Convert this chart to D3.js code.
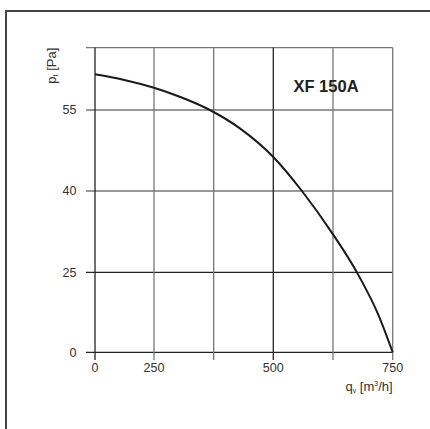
<!DOCTYPE html>
<html>
<head>
  <meta charset="utf-8">
  <script src="https://cdn.jsdelivr.net/npm/d3@7/dist/d3.min.js"></script>
  <style>
    body { margin: 0; background: #fff; }
    text { font-family: "Liberation Sans", Arial, sans-serif; fill: #333; }
  </style>
</head>
<body>
  <svg id="chart" width="430" height="429"></svg>
  <script>
    // fan curve XF 150A
    var flow = [0, 120, 250, 308, 367, 430, 500, 560, 625, 675, 720, 750];
    var pressure = [61.6, 60.6, 59.1, 57.3, 55, 51.6, 46.3, 40, 32.0, 25, 11.7, 0];

    var xTicks = [0, 250, 500, 750];
    var xGrid = [0, 250, 375, 500, 625, 750];
    var yTicks = [0, 25, 40, 55];
    var yGrid = [0, 25, 40, 55, 66.5];
    var darkX = [0, 500];
    var darkY = [0, 25];

    var svg = d3.select('#chart');

    // the original chart's axes are not evenly spaced, so piecewise scales
    var x = d3.scaleLinear()
      .domain([0, 250, 500, 750])
      .range([95, 154, 273.3, 392.7]);
    var y = d3.scaleLinear()
      .domain([0, 25, 40, 55, 66.5])
      .range([352.3, 272.3, 191, 110, 47.7]);

    // outer frame (runs off the right and bottom edges)
    svg.append('rect')
      .attr('x', 6).attr('y', 11)
      .attr('width', 440).attr('height', 440)
      .attr('fill', 'none')
      .attr('stroke', '#444')
      .attr('stroke-width', 2);

    svg.selectAll('line.hgrid')
      .data(yGrid)
      .enter().append('line')
      .attr('class', 'hgrid')
      .attr('x1', 86).attr('x2', x(750))
      .attr('y1', d => y(d)).attr('y2', d => y(d))
      .attr('stroke', d => darkY.includes(d) ? '#222' : '#777')
      .attr('stroke-width', 1.3);

    svg.selectAll('line.vgrid')
      .data(xGrid)
      .enter().append('line')
      .attr('class', 'vgrid')
      .attr('x1', d => x(d)).attr('x2', d => x(d))
      .attr('y1', y(66.5)).attr('y2', 360)
      .attr('stroke', d => darkX.includes(d) ? '#222' : '#777')
      .attr('stroke-width', 1.3);

    svg.selectAll('text.ylab')
      .data(yTicks)
      .enter().append('text')
      .attr('class', 'ylab')
      .attr('x', 76.5)
      .attr('y', d => y(d) + 4.3)
      .attr('text-anchor', 'end')
      .style('font-size', '12.5px')
      .text(d => d);

    svg.selectAll('text.xlab')
      .data(xTicks)
      .enter().append('text')
      .attr('class', 'xlab')
      .attr('x', d => x(d))
      .attr('y', 371.5)
      .attr('text-anchor', 'middle')
      .style('font-size', '12.5px')
      .text(d => d);

    // axis titles
    var yt = svg.append('text')
      .attr('transform', 'translate(56,' + y(66.5) + ') rotate(-90)')
      .attr('text-anchor', 'end')
      .style('font-size', '13px');
    yt.append('tspan').text('p');
    yt.append('tspan').attr('dy', 2).style('font-size', '7px').text('t');
    yt.append('tspan').attr('dy', -2).text(' [Pa]');

    var xt = svg.append('text')
      .attr('x', x(750)).attr('y', 390.5)
      .attr('text-anchor', 'end')
      .style('font-size', '13px');
    xt.append('tspan').text('q');
    xt.append('tspan').attr('dy', 2).style('font-size', '7px').text('v');
    xt.append('tspan').attr('dy', -2).text(' [m');
    xt.append('tspan').attr('dy', -5).style('font-size', '7px').text('3');
    xt.append('tspan').attr('dy', 5).text('/h]');

    svg.append('text')
      .attr('x', 326).attr('y', 92.3)
      .attr('text-anchor', 'middle')
      .style('font-size', '16.5px')
      .style('font-weight', 'bold')
      .style('fill', '#222')
      .text('XF 150A');

    var line = d3.line()
      .x(d => x(d[0]))
      .y(d => y(d[1]))
      .curve(d3.curveMonotoneX);

    svg.append('path')
      .datum(d3.zip(flow, pressure))
      .attr('d', line)
      .attr('fill', 'none')
      .attr('stroke', '#1a1a1a')
      .attr('stroke-width', 2);
  </script>
</body>
</html>
